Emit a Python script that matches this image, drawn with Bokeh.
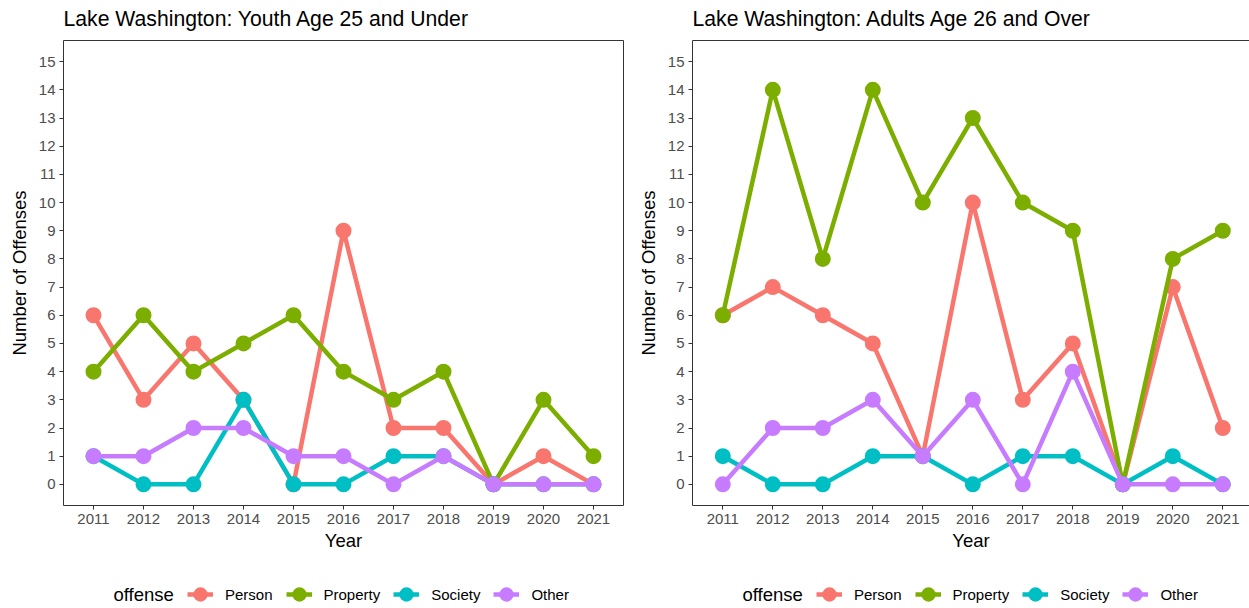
from bokeh.plotting import figure
from bokeh.layouts import row, column
from bokeh.models import Legend, LegendItem, FixedTicker, LinearAxis, Range1d, Label
from bokeh.embed import file_html
from bokeh.resources import INLINE

years = [2011, 2012, 2013, 2014, 2015, 2016, 2017, 2018, 2019, 2020, 2021]
offenses = ["Person", "Property", "Society", "Other"]
colors = ["#F8766D", "#7CAE00", "#00BFC4", "#C77CFF"]

youth_person = [6, 3, 5, 3, 0, 9, 2, 2, 0, 1, 0]
youth_property = [4, 6, 4, 5, 6, 4, 3, 4, 0, 3, 1]
youth_society = [1, 0, 0, 3, 0, 0, 1, 1, 0, 0, 0]
youth_other = [1, 1, 2, 2, 1, 1, 0, 1, 0, 0, 0]

adult_person = [6, 7, 6, 5, 1, 10, 3, 5, 0, 7, 2]
adult_property = [6, 14, 8, 14, 10, 13, 10, 9, 0, 8, 9]
adult_society = [1, 0, 0, 1, 1, 0, 1, 1, 0, 1, 0]
adult_other = [0, 2, 2, 3, 1, 3, 0, 4, 0, 0, 0]

y_ticks = list(range(0, 16))

titles = ["Lake Washington: Youth Age 25 and Under",
          "Lake Washington: Adults Age 26 and Over"]

FONT = "Liberation Sans"
H_TITLE = 32
H_MAIN = 542
H_LEG = 34
FRAME_TOP = 40
FRAME_BOTTOM = 505
LINE_W = 4.5
MARK_SIZE = 12
MARK_LW = 4


def strip(width, height):
    q = figure(width=width, height=height, output_backend="svg", toolbar_location=None,
               x_range=Range1d(0, 1), y_range=Range1d(0, 1),
               x_axis_location=None, y_axis_location=None,
               min_border_left=0, min_border_right=0, min_border_top=0,
               min_border_bottom=0)
    q.outline_line_color = None
    q.xgrid.visible = False
    q.ygrid.visible = False
    q.background_fill_color = "white"
    q.border_fill_color = "white"
    return q


def make_title(text, width, x):
    t = strip(width, H_TITLE)
    t.add_layout(Label(x=x, y=H_TITLE - 18, x_units="screen", y_units="screen",
                       text=text, text_font=FONT, text_font_size="21.2px",
                       text_color="black", text_align="left", text_baseline="middle"))
    return t


def make_panel(series, width, b_left, b_right, x_start, x_end, outline):
    p = figure(width=width, height=H_MAIN, output_backend="svg", toolbar_location=None,
               x_range=Range1d(x_start, x_end), y_range=Range1d(-0.75, 15.75),
               min_border_left=b_left, min_border_right=b_right,
               min_border_top=FRAME_TOP - H_TITLE,
               min_border_bottom=H_MAIN - (FRAME_BOTTOM - H_TITLE))
    p.background_fill_color = "white"
    p.border_fill_color = "white"
    p.xgrid.visible = False
    p.ygrid.visible = False
    if outline:
        p.outline_line_color = "#333333"
        p.outline_line_width = 1
    else:
        p.outline_line_color = None

    for ax in (p.xaxis[0], p.yaxis[0]):
        ax.axis_line_color = None if outline else "#333333"
        ax.major_tick_line_color = "#333333"
        ax.major_tick_out = 4
        ax.major_tick_in = 0
        ax.minor_tick_line_color = None
        ax.major_label_text_font = FONT
        ax.major_label_text_font_size = "15px"
        ax.major_label_text_color = "#4D4D4D"
        ax.major_label_standoff = 4
        ax.axis_label_text_font = FONT
        ax.axis_label_text_font_size = "18.5px"
        ax.axis_label_text_font_style = "normal"
        ax.axis_label_text_color = "black"
    p.xaxis[0].ticker = FixedTicker(ticks=years)
    p.yaxis[0].ticker = FixedTicker(ticks=y_ticks)
    p.xaxis[0].axis_label = "Year"
    p.yaxis[0].axis_label = "Number of Offenses"
    p.xaxis[0].axis_label_standoff = 3
    p.yaxis[0].axis_label_standoff = 6

    if not outline:
        top = LinearAxis(ticker=FixedTicker(ticks=[]), axis_line_color="#333333",
                         major_tick_line_color=None, minor_tick_line_color=None,
                         major_tick_out=0, major_label_standoff=0,
                         major_label_text_font_size="0px")
        p.add_layout(top, "above")

    for name, vals, col in zip(offenses, series, colors):
        p.line(years, vals, line_color=col, line_width=LINE_W)
        p.scatter(years, vals, size=MARK_SIZE, fill_color=col, line_color=col,
                  line_width=MARK_LW)
    return p


def make_legend(series, width, title_x, items_x):
    q = strip(width, H_LEG)
    items = []
    # legend key renderers (data lies outside this strip's ranges, so only keys show)
    for name, vals, col in zip(offenses, series, colors):
        lr = q.line(years, vals, line_color=col, line_width=LINE_W)
        sr = q.scatter(years, vals, size=MARK_SIZE, fill_color=col, line_color=col,
                       line_width=MARK_LW)
        items.append(LegendItem(label=name, renderers=[lr, sr]))
    legend = Legend(items=items, orientation="horizontal", location=(items_x, 0),
                    label_text_font=FONT, label_text_font_size="15px",
                    label_text_color="black",
                    glyph_width=26, glyph_height=28, label_standoff=12,
                    spacing=13, padding=0, margin=0,
                    border_line_color=None, background_fill_alpha=0)
    q.add_layout(legend, "center")
    q.add_layout(Label(x=title_x, y=14, x_units="screen", y_units="screen",
                       text="offense", text_font=FONT, text_font_size="18.5px",
                       text_color="black", text_align="left",
                       text_baseline="middle"))
    return q


youth = [youth_person, youth_property, youth_society, youth_other]
adult = [adult_person, adult_property, adult_society, adult_other]

t1 = make_title(titles[0], 628, 63)
t2 = make_title(titles[1], 621, 64)
p1 = make_panel(youth, 628, 63, 5, 2010.4, 2021.6, True)
p2 = make_panel(adult, 621, 64, 0, 2010.394, 2021.534, False)
l1 = make_legend(youth, 628, 113, 187)
l2 = make_legend(adult, 621, 114, 188)

layout = column(row(t1, t2), row(p1, p2), row(l1, l2))

open("out.html", "w").write(file_html(layout, INLINE))
